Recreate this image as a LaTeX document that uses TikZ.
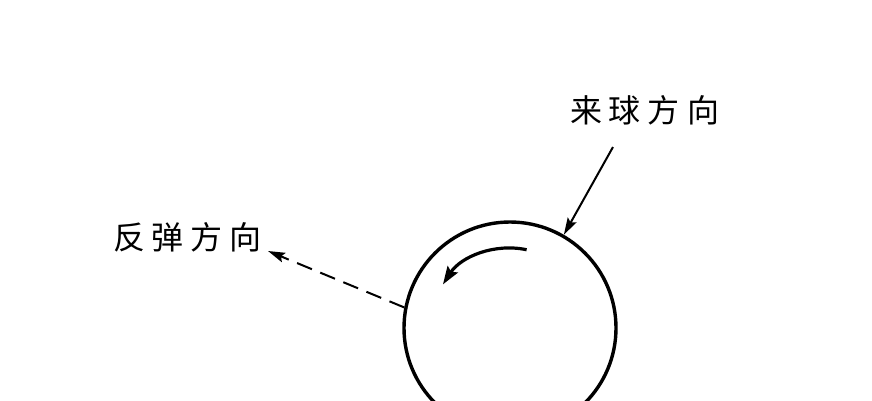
\documentclass[tikz,border=0pt]{standalone}
\usepackage{fontspec}
\newfontfamily\cjk{Noto Sans CJK SC}
\usetikzlibrary{arrows.meta}
\begin{document}
\begin{tikzpicture}[x=1pt,y=1pt,
  ball/.style={circle,draw,line width=3.4pt,minimum size=212pt,inner sep=0pt},
  lbl/.style={inner sep=0pt,font=\fontsize{32}{32}\cjk},
  arr/.style={line width=2pt,-{Stealth[length=17pt,width=10pt,inset=3pt]}},
  rot/.style={line width=3.2pt,-{Stealth[length=18pt,width=12pt,inset=3pt]}},
  dsh/.style={line width=2pt,dash pattern=on 16pt off 9pt,-{Stealth[length=17pt,width=10pt,inset=3pt]}}]
\useasboundingbox (0,0) rectangle (872,-400);
\clip (0,0) rectangle (872,-400);
\node[ball] (ball) at (510,-328) {};
\node[lbl] (inlbl) at (644.5,-110) {来\kern7pt 球\kern7pt 方\kern7pt 向};
\node[lbl] (outlbl) at (187.5,-237) {反\kern7pt 弹\kern7pt 方\kern7pt 向};
\coordinate (inStart) at (613,-147);
\coordinate (outTip) at (268,-251);
\draw[arr] (inStart) -- (ball.60);
\draw[dsh] (ball.169) -- (outTip);
\draw[rot] (ball.center) ++(78:80) arc[start angle=78,end angle=147,radius=80];
\end{tikzpicture}
\end{document}
